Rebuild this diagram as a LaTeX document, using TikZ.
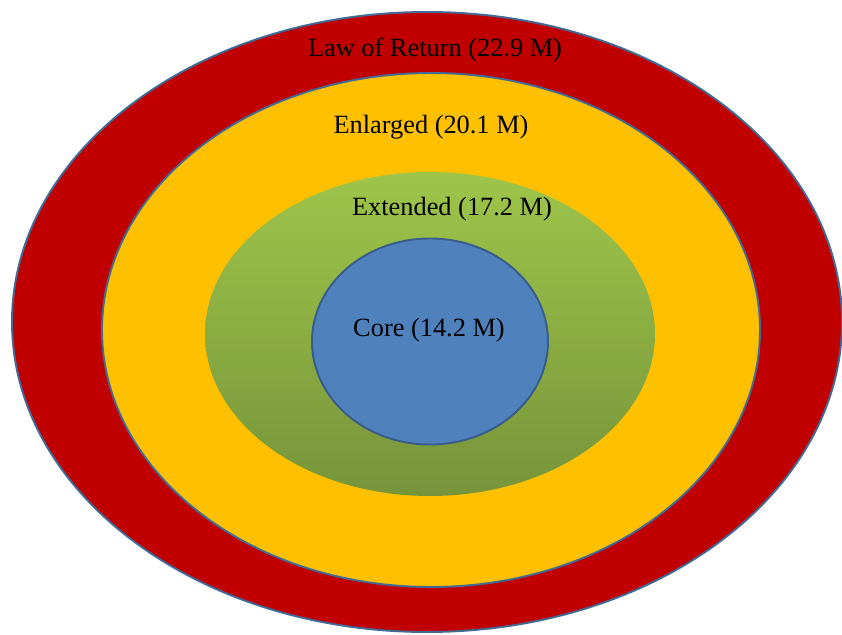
\documentclass[tikz,border=0pt]{standalone}
\usepackage{fontspec}
\setmainfont{Liberation Serif}
\usetikzlibrary{calc}

\definecolor{ringline}{RGB}{65,106,150}
\definecolor{lawred}{RGB}{192,0,0}
\definecolor{enlyellow}{RGB}{255,192,0}
\definecolor{exttop}{RGB}{158,197,74}
\definecolor{extbottom}{RGB}{118,148,58}
\definecolor{coreblue}{RGB}{79,129,189}
\definecolor{coreline}{RGB}{56,93,138}

\begin{document}
\begin{tikzpicture}[x=0.02cm,y=-0.02cm]
	\tikzset{ring/.style={draw=ringline, line width=1.1pt},
		lbl/.style={font=\fontsize{15}{18}\selectfont, inner sep=0pt}}
	\useasboundingbox (0,0) rectangle (842,635);
	
	\draw[ring, fill=lawred] (427,322) ellipse (415 and 310);		%law of return
	\draw[ring, fill=enlyellow] (431,330) ellipse (329 and 257);	%enlarged
	\shade[top color=exttop, bottom color=extbottom] (430,334) ellipse (225 and 162);	%extended
	\draw[draw=coreline, line width=1.1pt, fill=coreblue] (430,341.5) ellipse (118 and 103);	%core
	
	\node[lbl] (law) at (435,50) {Law of Return (22.9 M)};
	\node[lbl] (enlarged) at (431,127) {Enlarged (20.1 M)};
	\node[lbl] (extended) at (452,209) {Extended (17.2 M)};
	\node[lbl] (core) at (429,330) {Core (14.2 M)};
\end{tikzpicture}
\end{document}
